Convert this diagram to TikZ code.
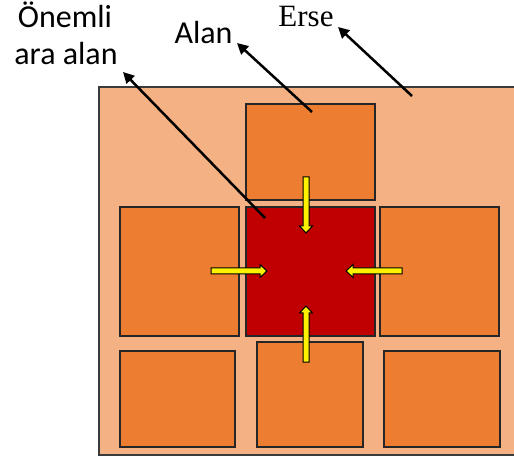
\documentclass[tikz,border=0pt]{standalone}
\usepackage{fontspec}
\setmainfont{Carlito}
\newfontfamily\serifE{Liberation Serif}
\usetikzlibrary{arrows.meta}
\definecolor{bgorange}{HTML}{F4B183}
\definecolor{boxorange}{HTML}{ED7D31}
\definecolor{centerred}{HTML}{C00000}
\definecolor{edgegray}{HTML}{3A3A3A}
\tikzset{
  obox/.style={draw=black!85, line width=1.5pt, fill=boxorange, inner sep=0pt},
  cbox/.style={draw=black!85, line width=1.5pt, fill=centerred, inner sep=0pt},
  lbl/.style={font=\fontsize{32}{38}\selectfont, inner sep=0pt, anchor=base},
  pointer/.style={line width=2.5pt, -{Triangle[length=11pt,width=11pt]}},
  yarrow/.pic={\filldraw[fill=yellow, draw=black, line width=1pt]
     (-3,0) -- (-3,49) -- (-6.5,49) -- (0,56) -- (6.5,49) -- (3,49) -- (3,0) -- cycle;}
}
\begin{document}
\begin{tikzpicture}[x=1pt,y=-1pt]
\useasboundingbox (0,0) rectangle (514,462);
\clip (0,0) rectangle (514,462);
% outer area
\node[draw=edgegray, line width=1.8pt, fill=bgorange, inner sep=0pt,
      minimum width=425pt, minimum height=368pt] (erse) at (311.5,271) {};
% boxes
\node[obox, minimum width=129pt, minimum height=96pt]  (top)   at (310.5,152) {};
\node[cbox, minimum width=129pt, minimum height=129pt] (alan)  at (310.5,271.5) {};
\node[obox, minimum width=119pt, minimum height=129pt] (left)  at (179.5,271.5) {};
\node[obox, minimum width=119pt, minimum height=129pt] (right) at (439.5,271.5) {};
\node[obox, minimum width=115pt, minimum height=96pt]  (bl)    at (177.5,399) {};
\node[obox, minimum width=106pt, minimum height=105pt] (bm)    at (310,394.5) {};
\node[obox, minimum width=116pt, minimum height=96pt]  (br)    at (442,399) {};
% yellow arrows
\pic at (306,177) {yarrow};
\pic[rotate=180] at (306,362) {yarrow};
\pic[rotate=90] at (211,271) {yarrow};
\pic[rotate=-90] at (402,271) {yarrow};
% labels
\node[lbl] (onemli) at (65,28) {Önemli};
\node[lbl] (araalan) at (66,65) {ara alan};
\node[lbl] (alanlbl) at (203.5,44) {Alan};
\node[lbl, font=\serifE\fontsize{31}{37}\selectfont] (erselbl) at (306,27) {Erse};
% pointer ends
\coordinate (t1) at (265,218);
\coordinate (h1) at (123,72);
\coordinate (t2) at (312,112);
\coordinate (h2) at (237,43);
\coordinate (t3) at (412,96);
\coordinate (h3) at (338,27);
\draw[pointer] (t1) -- (h1);
\draw[pointer] (t2) -- (h2);
\draw[pointer] (t3) -- (h3);
\end{tikzpicture}
\end{document}
